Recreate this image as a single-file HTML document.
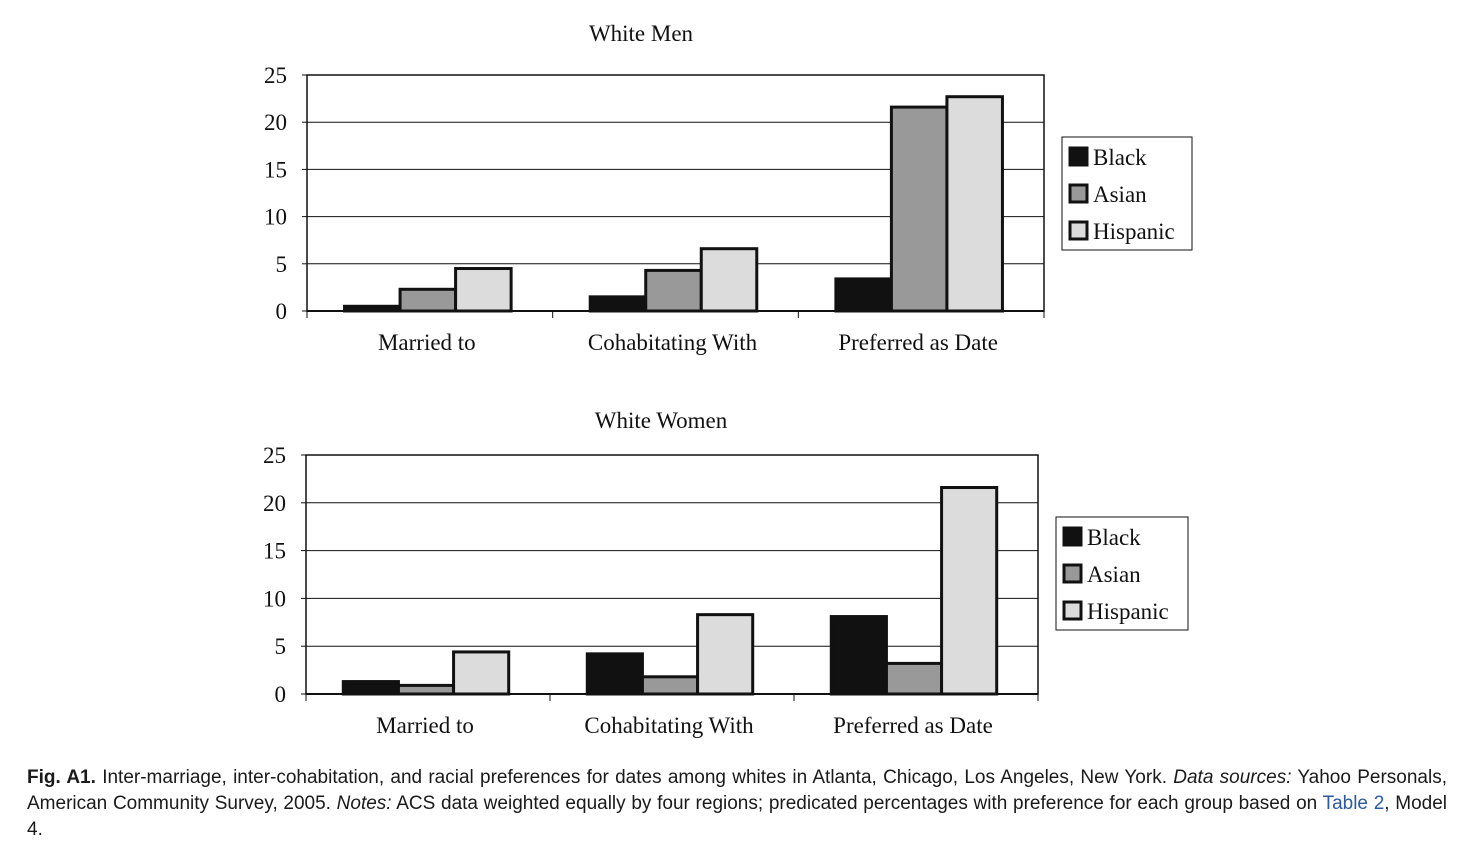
<!DOCTYPE html>
<html><head><meta charset="utf-8">
<style>
body{margin:0;background:#fff;width:1471px;height:862px;overflow:hidden;}
svg text{font-family:"Liberation Serif",serif;fill:#111;}
.cap{position:absolute;left:27px;top:765px;width:1420px;font-family:"Liberation Sans",sans-serif;font-size:19px;line-height:26px;color:#1a1a1a;text-align:justify;text-align-last:left;}
</style></head><body>
<svg id="c" width="1471" height="760" style="position:absolute;left:0;top:0"></svg>
<div class="cap"><b>Fig. A1.</b> Inter-marriage, inter-cohabitation, and racial preferences for dates among whites in Atlanta, Chicago, Los Angeles, New York. <i>Data sources:</i> Yahoo Personals, American Community Survey, 2005. <i>Notes:</i> ACS data weighted equally by four regions; predicated percentages with preference for each group based on <span style="color:#2a5aa0">Table 2</span>, Model 4.</div>
<script>
const categories=["Married to","Cohabitating With","Preferred as Date"];
const seriesNames=["Black","Asian","Hispanic"];
const menBlack=[0.5,1.5,3.4];
const menAsian=[2.3,4.3,21.6];
const menHispanic=[4.5,6.6,22.7];
const womenBlack=[1.3,4.2,8.1];
const womenAsian=[0.9,1.8,3.2];
const womenHispanic=[4.4,8.3,21.6];
const yTicks=[0,5,10,15,20,25];
const colors=["#111","#999","#dcdcdc"];
const svg=document.getElementById('c');
const NS="http://www.w3.org/2000/svg";
function mk(t,a,p){const e=document.createElementNS(NS,t);for(const k in a)e.setAttribute(k,a[k]);(p||svg).appendChild(e);return e;}
function chart(cfg){
  const g=mk('g',{});
  
  
  const {x0,x1,y0,y1}=cfg;
  const ys=v=>y0-(v/25)*(y0-y1);
  const cw=(x1-x0)/categories.length;
  const t=mk('text',{x:cfg.tx,y:cfg.ty,'font-size':23,'text-anchor':'middle'},g);t.textContent=cfg.title;
  
  yTicks.forEach(v=>{
    if(v>0){const l=mk('line',{x1:x0,x2:x1,y1:ys(v),y2:ys(v),stroke:'#111','stroke-width':1},g);
      }
    mk('line',{x1:x0-5,x2:x0,y1:ys(v),y2:ys(v),stroke:'#111'},g);
    const tl=mk('text',{x:x0-20,y:ys(v)+8,'font-size':23,'text-anchor':'end'},g);tl.textContent=v;
    
  });
  const fr=mk('rect',{x:x0,y:y1,width:x1-x0,height:y0-y1,fill:'none',stroke:'#111','stroke-width':1.5},g);
  
  const bw=cw*0.226;
  categories.forEach((c,i)=>{
    const cx=x0+cw*(i+0.5);
    cfg.series.forEach((s,j)=>{
      const bx=cx-1.5*bw+j*bw-2, top=ys(s[i]);
      const r=mk('rect',{x:bx,y:top,width:bw,height:y0-top,fill:colors[j],stroke:'#111','stroke-width':3},g);
      
      
    });
    mk('line',{x1:x0+cw*i,x2:x0+cw*i,y1:y0,y2:y0+7,stroke:'#111'},g);
    const cl=mk('text',{x:cx-3,y:y0+39,'font-size':23,'text-anchor':'middle'},g);cl.textContent=c;
    
  });
  mk('line',{x1:x1,x2:x1,y1:y0,y2:y0+7,stroke:'#111'},g);
  mk('line',{x1:x0,x2:x1,y1:y0,y2:y0,stroke:'#111','stroke-width':2},g);
  const lg=mk('g',{},g);
  
  mk('rect',{x:cfg.lx,y:cfg.ly,width:cfg.lw,height:113,fill:'#fff',stroke:'#111','stroke-width':1},lg);
  seriesNames.forEach((n,j)=>{
    const yy=cfg.ly+20+j*37;
    mk('rect',{x:cfg.lx+8,y:yy-9,width:17,height:17,fill:colors[j],stroke:'#111','stroke-width':3},lg);
    const lt=mk('text',{x:cfg.lx+31,y:yy+8,'font-size':23},lg);lt.textContent=n;
    
  });
}
chart({name:'white-men-chart',title:'White Men',tx:641,ty:41,x0:307,x1:1044,y0:311,y1:75,
  series:[menBlack,menAsian,menHispanic],lx:1062,ly:137,lw:130});
chart({name:'white-women-chart',title:'White Women',tx:661,ty:428,x0:306,x1:1038,y0:694,y1:455,
  series:[womenBlack,womenAsian,womenHispanic],lx:1056,ly:517,lw:132});
</script>
</body></html>
